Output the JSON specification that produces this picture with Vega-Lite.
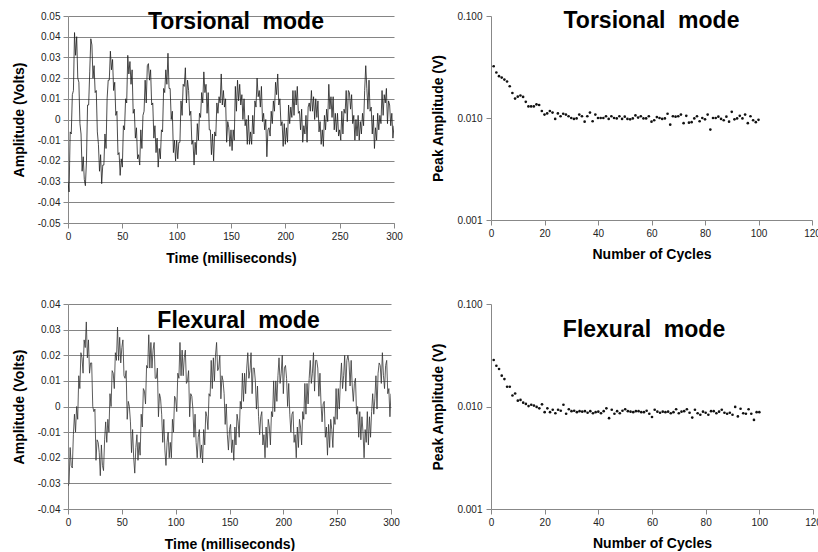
{
"$schema": "https://vega.github.io/schema/vega-lite/v6.json",
"background": "white",
"padding": {"left": 12, "top": 10, "right": 0, "bottom": 0},
"config": {
  "view": {"stroke": null},
  "font": "Liberation Sans",
  "axis": {"labelFont": "Liberation Sans", "labelFontSize": 10, "labelColor": "#222", "titleFont": "Liberation Sans", "titleFontSize": 14, "titleFontWeight": "bold", "titleColor": "#000", "domainColor": "#888", "tickColor": "#888", "gridColor": "#858585", "gridOpacity": 1, "tickSize": 5, "labelFlush": false, "labelOverlap": false},
  "title": {"font": "Liberation Sans", "fontSize": 23, "fontWeight": "bold", "color": "#000", "anchor": "middle", "frame": "group", "baseline": "top", "offset": -23}
},
"datasets": {
"tors": [
{"t":0,"v":-0.030},{"t":1,"v":-0.035},{"t":2,"v":-0.006},{"t":3,"v":-0.007},{"t":4,"v":0.012},{"t":5,"v":0.014},{"t":6,"v":0.042},{"t":7,"v":0.031},{"t":8,"v":0.040},{"t":9,"v":0.020},
{"t":10,"v":0.018},{"t":11,"v":-0.002},{"t":12,"v":-0.007},{"t":13,"v":-0.025},{"t":14,"v":-0.018},{"t":15,"v":-0.029},{"t":16,"v":-0.032},{"t":17,"v":-0.020},{"t":18,"v":0.007},{"t":19,"v":0.007},
{"t":20,"v":0.023},{"t":21,"v":0.039},{"t":22,"v":0.036},{"t":23,"v":0.020},{"t":24,"v":0.026},{"t":25,"v":0.013},{"t":26,"v":0.014},{"t":27,"v":-0.006},{"t":28,"v":-0.012},{"t":29,"v":-0.025},
{"t":30,"v":-0.017},{"t":31,"v":-0.031},{"t":32,"v":-0.022},{"t":33,"v":-0.022},{"t":34,"v":-0.007},{"t":35,"v":-0.014},{"t":36,"v":0.010},{"t":37,"v":0.019},{"t":38,"v":0.019},{"t":39,"v":0.033},
{"t":40,"v":0.024},{"t":41,"v":0.029},{"t":42,"v":0.014},{"t":43,"v":0.018},{"t":44,"v":0.002},{"t":45,"v":0.004},{"t":46,"v":-0.017},{"t":47,"v":-0.016},{"t":48,"v":-0.027},{"t":49,"v":-0.019},
{"t":50,"v":-0.023},{"t":51,"v":-0.003},{"t":52,"v":-0.005},{"t":53,"v":0.010},{"t":54,"v":0.008},{"t":55,"v":0.031},{"t":56,"v":0.022},{"t":57,"v":0.028},{"t":58,"v":0.017},{"t":59,"v":0.024},
{"t":60,"v":0.003},{"t":61,"v":0.005},{"t":62,"v":-0.009},{"t":63,"v":-0.004},{"t":64,"v":-0.019},{"t":65,"v":-0.017},{"t":66,"v":-0.022},{"t":67,"v":-0.005},{"t":68,"v":-0.014},{"t":69,"v":0.002},
{"t":70,"v":0.004},{"t":71,"v":0.019},{"t":72,"v":0.008},{"t":73,"v":0.026},{"t":74,"v":0.027},{"t":75,"v":0.019},{"t":76,"v":0.024},{"t":77,"v":0.007},{"t":78,"v":0.008},{"t":79,"v":-0.009},
{"t":80,"v":-0.003},{"t":81,"v":-0.016},{"t":82,"v":-0.009},{"t":83,"v":-0.023},{"t":84,"v":-0.014},{"t":85,"v":-0.019},{"t":86,"v":-0.005},{"t":87,"v":-0.006},{"t":88,"v":0.015},{"t":89,"v":0.013},
{"t":90,"v":0.024},{"t":91,"v":0.017},{"t":92,"v":0.032},{"t":93,"v":0.015},{"t":94,"v":0.015},{"t":95,"v":0.000},{"t":96,"v":0.004},{"t":97,"v":-0.016},{"t":98,"v":-0.010},{"t":99,"v":-0.020},
{"t":100,"v":-0.010},{"t":101,"v":-0.019},{"t":102,"v":-0.011},{"t":103,"v":-0.011},{"t":104,"v":0.009},{"t":105,"v":0.002},{"t":106,"v":0.017},{"t":107,"v":0.016},{"t":108,"v":0.025},{"t":109,"v":0.008},
{"t":110,"v":0.019},{"t":111,"v":0.014},{"t":112,"v":0.002},{"t":113,"v":0.004},{"t":114,"v":-0.012},{"t":115,"v":-0.010},{"t":116,"v":-0.022},{"t":117,"v":-0.011},{"t":118,"v":-0.017},{"t":119,"v":-0.002},
{"t":120,"v":-0.010},{"t":121,"v":0.003},{"t":122,"v":0.001},{"t":123,"v":0.013},{"t":124,"v":0.008},{"t":125,"v":0.023},{"t":126,"v":0.013},{"t":127,"v":0.017},{"t":128,"v":0.003},{"t":129,"v":0.013},
{"t":130,"v":-0.005},{"t":131,"v":-0.005},{"t":132,"v":-0.017},{"t":133,"v":-0.007},{"t":134,"v":-0.020},{"t":135,"v":-0.006},{"t":136,"v":-0.008},{"t":137,"v":0.008},{"t":138,"v":0.003},{"t":139,"v":0.011},
{"t":140,"v":0.008},{"t":141,"v":0.022},{"t":142,"v":0.007},{"t":143,"v":0.014},{"t":144,"v":0.006},{"t":145,"v":0.010},{"t":146,"v":-0.011},{"t":147,"v":-0.001},{"t":148,"v":-0.004},{"t":149,"v":-0.013},
{"t":150,"v":-0.005},{"t":151,"v":-0.015},{"t":152,"v":-0.005},{"t":153,"v":-0.010},{"t":154,"v":0.016},{"t":155,"v":0.004},{"t":156,"v":0.019},{"t":157,"v":0.009},{"t":158,"v":0.017},{"t":159,"v":0.007},
{"t":160,"v":0.012},{"t":161,"v":0.000},{"t":162,"v":0.010},{"t":163,"v":-0.003},{"t":164,"v":0.000},{"t":165,"v":-0.012},{"t":166,"v":0.002},{"t":167,"v":-0.012},{"t":168,"v":-0.006},{"t":169,"v":-0.012},
{"t":170,"v":0.002},{"t":171,"v":-0.007},{"t":172,"v":0.009},{"t":173,"v":0.006},{"t":174,"v":0.020},{"t":175,"v":0.011},{"t":176,"v":0.014},{"t":177,"v":0.006},{"t":178,"v":0.016},{"t":179,"v":-0.001},
{"t":180,"v":0.003},{"t":181,"v":-0.005},{"t":182,"v":0.000},{"t":183,"v":-0.018},{"t":184,"v":-0.005},{"t":185,"v":-0.004},{"t":186,"v":-0.008},{"t":187,"v":0.004},{"t":188,"v":-0.002},{"t":189,"v":0.009},
{"t":190,"v":0.004},{"t":191,"v":0.018},{"t":192,"v":0.012},{"t":193,"v":0.022},{"t":194,"v":0.007},{"t":195,"v":0.010},{"t":196,"v":-0.003},{"t":197,"v":-0.001},{"t":198,"v":-0.013},{"t":199,"v":-0.002},
{"t":200,"v":-0.012},{"t":201,"v":-0.004},{"t":202,"v":-0.011},{"t":203,"v":0.007},{"t":204,"v":-0.002},{"t":205,"v":0.006},{"t":206,"v":0.001},{"t":207,"v":0.014},{"t":208,"v":0.002},{"t":209,"v":0.014},
{"t":210,"v":0.007},{"t":211,"v":0.016},{"t":212,"v":0.003},{"t":213,"v":0.004},{"t":214,"v":-0.005},{"t":215,"v":0.005},{"t":216,"v":-0.011},{"t":217,"v":-0.003},{"t":218,"v":-0.007},{"t":219,"v":0.002},
{"t":220,"v":-0.011},{"t":221,"v":0.006},{"t":222,"v":0.008},{"t":223,"v":0.004},{"t":224,"v":0.014},{"t":225,"v":0.004},{"t":226,"v":0.011},{"t":227,"v":0.000},{"t":228,"v":0.010},{"t":229,"v":0.001},
{"t":230,"v":0.009},{"t":231,"v":-0.006},{"t":232,"v":-0.001},{"t":233,"v":-0.012},{"t":234,"v":-0.005},{"t":235,"v":-0.013},{"t":236,"v":0.002},{"t":237,"v":-0.005},{"t":238,"v":0.005},{"t":239,"v":-0.001},
{"t":240,"v":0.017},{"t":241,"v":0.005},{"t":242,"v":0.011},{"t":243,"v":0.001},{"t":244,"v":0.011},{"t":245,"v":-0.005},{"t":246,"v":0.003},{"t":247,"v":-0.006},{"t":248,"v":0.003},{"t":249,"v":-0.008},
{"t":250,"v":-0.005},{"t":251,"v":-0.010},{"t":252,"v":0.004},{"t":253,"v":-0.007},{"t":254,"v":0.005},{"t":255,"v":0.003},{"t":256,"v":0.014},{"t":257,"v":-0.001},{"t":258,"v":0.014},{"t":259,"v":0.013},
{"t":260,"v":0.005},{"t":261,"v":0.012},{"t":262,"v":-0.002},{"t":263,"v":0.002},{"t":264,"v":-0.010},{"t":265,"v":0.000},{"t":266,"v":-0.008},{"t":267,"v":0.002},{"t":268,"v":-0.010},{"t":269,"v":-0.001},
{"t":270,"v":-0.007},{"t":271,"v":0.003},{"t":272,"v":-0.003},{"t":273,"v":0.014},{"t":274,"v":0.026},{"t":275,"v":0.015},{"t":276,"v":0.005},{"t":277,"v":0.019},{"t":278,"v":0.004},{"t":279,"v":0.006},
{"t":280,"v":-0.007},{"t":281,"v":0.002},{"t":282,"v":-0.014},{"t":283,"v":-0.004},{"t":284,"v":-0.010},{"t":285,"v":0.003},{"t":286,"v":-0.005},{"t":287,"v":0.002},{"t":288,"v":-0.002},{"t":289,"v":0.014},
{"t":290,"v":0.002},{"t":291,"v":0.012},{"t":292,"v":0.008},{"t":293,"v":0.015},{"t":294,"v":-0.002},{"t":295,"v":0.009},{"t":296,"v":0.007},{"t":297,"v":-0.003},{"t":298,"v":0.003},{"t":299,"v":-0.009},
{"t":300,"v":-0.003}
],
"flex": [
{"t":0,"v":-0.031},{"t":1,"v":-0.030},{"t":2,"v":-0.016},{"t":3,"v":-0.023},{"t":4,"v":-0.024},{"t":5,"v":-0.011},{"t":6,"v":-0.003},{"t":7,"v":-0.010},{"t":8,"v":0.000},{"t":9,"v":-0.005},
{"t":10,"v":0.012},{"t":11,"v":0.007},{"t":12,"v":0.021},{"t":13,"v":0.019},{"t":14,"v":0.013},{"t":15,"v":0.026},{"t":16,"v":0.023},{"t":17,"v":0.033},{"t":18,"v":0.019},{"t":19,"v":0.026},
{"t":20,"v":0.013},{"t":21,"v":0.017},{"t":22,"v":0.017},{"t":23,"v":0.000},{"t":24,"v":-0.002},{"t":25,"v":-0.001},{"t":26,"v":-0.021},{"t":27,"v":-0.013},{"t":28,"v":-0.014},{"t":29,"v":-0.018},
{"t":30,"v":-0.027},{"t":31,"v":-0.015},{"t":32,"v":-0.023},{"t":33,"v":-0.025},{"t":34,"v":-0.013},{"t":35,"v":-0.006},{"t":36,"v":-0.014},{"t":37,"v":-0.005},{"t":38,"v":-0.010},{"t":39,"v":0.005},
{"t":40,"v":0.000},{"t":41,"v":0.014},{"t":42,"v":0.013},{"t":43,"v":0.007},{"t":44,"v":0.021},{"t":45,"v":0.018},{"t":46,"v":0.031},{"t":47,"v":0.018},{"t":48,"v":0.027},{"t":49,"v":0.017},
{"t":50,"v":0.023},{"t":51,"v":0.026},{"t":52,"v":0.012},{"t":53,"v":0.011},{"t":54,"v":0.014},{"t":55,"v":-0.005},{"t":56,"v":0.002},{"t":57,"v":0.000},{"t":58,"v":-0.006},{"t":59,"v":-0.018},
{"t":60,"v":-0.009},{"t":61,"v":-0.020},{"t":62,"v":-0.026},{"t":63,"v":-0.016},{"t":64,"v":-0.011},{"t":65,"v":-0.021},{"t":66,"v":-0.014},{"t":67,"v":-0.019},{"t":68,"v":-0.003},{"t":69,"v":-0.008},
{"t":70,"v":0.007},{"t":71,"v":0.006},{"t":72,"v":0.001},{"t":73,"v":0.016},{"t":74,"v":0.015},{"t":75,"v":0.028},{"t":76,"v":0.015},{"t":77,"v":0.025},{"t":78,"v":0.015},{"t":79,"v":0.022},
{"t":80,"v":0.025},{"t":81,"v":0.011},{"t":82,"v":0.011},{"t":83,"v":0.015},{"t":84,"v":-0.004},{"t":85,"v":0.005},{"t":86,"v":0.003},{"t":87,"v":-0.003},{"t":88,"v":-0.014},{"t":89,"v":-0.005},
{"t":90,"v":-0.017},{"t":91,"v":-0.023},{"t":92,"v":-0.014},{"t":93,"v":-0.010},{"t":94,"v":-0.020},{"t":95,"v":-0.014},{"t":96,"v":-0.020},{"t":97,"v":-0.005},{"t":98,"v":-0.010},{"t":99,"v":0.004},
{"t":100,"v":0.003},{"t":101,"v":-0.002},{"t":102,"v":0.013},{"t":103,"v":0.011},{"t":104,"v":0.025},{"t":105,"v":0.012},{"t":106,"v":0.022},{"t":107,"v":0.012},{"t":108,"v":0.019},{"t":109,"v":0.022},
{"t":110,"v":0.009},{"t":111,"v":0.010},{"t":112,"v":0.014},{"t":113,"v":-0.004},{"t":114,"v":0.005},{"t":115,"v":0.004},{"t":116,"v":-0.001},{"t":117,"v":-0.012},{"t":118,"v":-0.003},{"t":119,"v":-0.014},
{"t":120,"v":-0.020},{"t":121,"v":-0.012},{"t":122,"v":-0.009},{"t":123,"v":-0.020},{"t":124,"v":-0.015},{"t":125,"v":-0.022},{"t":126,"v":-0.009},{"t":127,"v":-0.015},{"t":128,"v":-0.002},{"t":129,"v":-0.004},
{"t":130,"v":-0.009},{"t":131,"v":0.005},{"t":132,"v":0.004},{"t":133,"v":0.018},{"t":134,"v":0.007},{"t":135,"v":0.019},{"t":136,"v":0.010},{"t":137,"v":0.020},{"t":138,"v":0.025},{"t":139,"v":0.014},
{"t":140,"v":0.015},{"t":141,"v":0.020},{"t":142,"v":0.003},{"t":143,"v":0.012},{"t":144,"v":0.010},{"t":145,"v":0.005},{"t":146,"v":-0.007},{"t":147,"v":0.001},{"t":148,"v":-0.011},{"t":149,"v":-0.017},
{"t":150,"v":-0.009},{"t":151,"v":-0.007},{"t":152,"v":-0.018},{"t":153,"v":-0.013},{"t":154,"v":-0.021},{"t":155,"v":-0.008},{"t":156,"v":-0.015},{"t":157,"v":-0.003},{"t":158,"v":-0.006},{"t":159,"v":-0.012},
{"t":160,"v":0.002},{"t":161,"v":-0.001},{"t":162,"v":0.013},{"t":163,"v":0.002},{"t":164,"v":0.013},{"t":165,"v":0.005},{"t":166,"v":0.015},{"t":167,"v":0.021},{"t":168,"v":0.011},{"t":169,"v":0.014},
{"t":170,"v":0.021},{"t":171,"v":0.005},{"t":172,"v":0.015},{"t":173,"v":0.015},{"t":174,"v":0.010},{"t":175,"v":-0.001},{"t":176,"v":0.008},{"t":177,"v":-0.004},{"t":178,"v":-0.011},{"t":179,"v":-0.004},
{"t":180,"v":-0.002},{"t":181,"v":-0.015},{"t":182,"v":-0.011},{"t":183,"v":-0.020},{"t":184,"v":-0.008},{"t":185,"v":-0.016},{"t":186,"v":-0.005},{"t":187,"v":-0.008},{"t":188,"v":-0.015},{"t":189,"v":-0.002},
{"t":190,"v":-0.004},{"t":191,"v":0.010},{"t":192,"v":-0.002},{"t":193,"v":0.010},{"t":194,"v":0.002},{"t":195,"v":0.012},{"t":196,"v":0.019},{"t":197,"v":0.009},{"t":198,"v":0.013},{"t":199,"v":0.020},
{"t":200,"v":0.005},{"t":201,"v":0.015},{"t":202,"v":0.016},{"t":203,"v":0.011},{"t":204,"v":0.000},{"t":205,"v":0.009},{"t":206,"v":-0.003},{"t":207,"v":-0.010},{"t":208,"v":-0.003},{"t":209,"v":-0.002},
{"t":210,"v":-0.014},{"t":211,"v":-0.011},{"t":212,"v":-0.020},{"t":213,"v":-0.008},{"t":214,"v":-0.016},{"t":215,"v":-0.005},{"t":216,"v":-0.008},{"t":217,"v":-0.015},{"t":218,"v":-0.002},{"t":219,"v":-0.005},
{"t":220,"v":0.009},{"t":221,"v":-0.003},{"t":222,"v":0.009},{"t":223,"v":0.001},{"t":224,"v":0.011},{"t":225,"v":0.018},{"t":226,"v":0.009},{"t":227,"v":0.013},{"t":228,"v":0.021},{"t":229,"v":0.006},
{"t":230,"v":0.018},{"t":231,"v":0.018},{"t":232,"v":0.015},{"t":233,"v":0.004},{"t":234,"v":0.013},{"t":235,"v":0.001},{"t":236,"v":-0.006},{"t":237,"v":0.001},{"t":238,"v":0.002},{"t":239,"v":-0.012},
{"t":240,"v":-0.008},{"t":241,"v":-0.019},{"t":242,"v":-0.007},{"t":243,"v":-0.016},{"t":244,"v":-0.005},{"t":245,"v":-0.009},{"t":246,"v":-0.016},{"t":247,"v":-0.004},{"t":248,"v":-0.007},{"t":249,"v":0.007},
{"t":250,"v":-0.005},{"t":251,"v":0.007},{"t":252,"v":-0.001},{"t":253,"v":0.010},{"t":254,"v":0.017},{"t":255,"v":0.007},{"t":256,"v":0.012},{"t":257,"v":0.020},{"t":258,"v":0.006},{"t":259,"v":0.018},
{"t":260,"v":0.020},{"t":261,"v":0.017},{"t":262,"v":0.008},{"t":263,"v":0.018},{"t":264,"v":0.008},{"t":265,"v":0.002},{"t":266,"v":0.009},{"t":267,"v":0.011},{"t":268,"v":-0.003},{"t":269,"v":0.000},
{"t":270,"v":-0.012},{"t":271,"v":-0.002},{"t":272,"v":-0.013},{"t":273,"v":-0.004},{"t":274,"v":-0.010},{"t":275,"v":-0.020},{"t":276,"v":-0.009},{"t":277,"v":-0.014},{"t":278,"v":-0.002},{"t":279,"v":-0.015},
{"t":280,"v":-0.004},{"t":281,"v":-0.012},{"t":282,"v":-0.002},{"t":283,"v":0.005},{"t":284,"v":-0.003},{"t":285,"v":0.003},{"t":286,"v":0.012},{"t":287,"v":-0.001},{"t":288,"v":0.013},{"t":289,"v":0.017},
{"t":290,"v":0.016},{"t":291,"v":0.009},{"t":292,"v":0.021},{"t":293,"v":0.012},{"t":294,"v":0.007},{"t":295,"v":0.016},{"t":296,"v":0.018},{"t":297,"v":0.005},{"t":298,"v":0.007},{"t":299,"v":-0.004},
{"t":300,"v":0.005}
],
"torsPeak": [
{"c":1,"a":0.0322},{"c":2,"a":0.0279},{"c":3,"a":0.0257},{"c":4,"a":0.0249},{"c":5,"a":0.0238},{"c":6,"a":0.0228},{"c":7,"a":0.0205},{"c":8,"a":0.0176},{"c":9,"a":0.0155},{"c":10,"a":0.0162},
{"c":11,"a":0.0166},{"c":12,"a":0.0161},{"c":13,"a":0.0144},{"c":14,"a":0.0130},{"c":15,"a":0.0130},{"c":16,"a":0.0130},{"c":17,"a":0.0136},{"c":18,"a":0.0134},{"c":19,"a":0.0117},{"c":20,"a":0.0108},
{"c":21,"a":0.0111},{"c":22,"a":0.0117},{"c":23,"a":0.0113},{"c":24,"a":0.0098},{"c":25,"a":0.0111},{"c":26,"a":0.0104},{"c":27,"a":0.0110},{"c":28,"a":0.0108},{"c":29,"a":0.0104},{"c":30,"a":0.0100},
{"c":31,"a":0.0098},{"c":32,"a":0.0099},{"c":33,"a":0.0108},{"c":34,"a":0.0104},{"c":35,"a":0.0092},{"c":36,"a":0.0104},{"c":37,"a":0.0113},{"c":38,"a":0.0093},{"c":39,"a":0.0108},{"c":40,"a":0.0100},
{"c":41,"a":0.0100},{"c":42,"a":0.0100},{"c":43,"a":0.0104},{"c":44,"a":0.0098},{"c":45,"a":0.0104},{"c":46,"a":0.0100},{"c":47,"a":0.0099},{"c":48,"a":0.0104},{"c":49,"a":0.0098},{"c":50,"a":0.0103},
{"c":51,"a":0.0098},{"c":52,"a":0.0097},{"c":53,"a":0.0099},{"c":54,"a":0.0106},{"c":55,"a":0.0101},{"c":56,"a":0.0104},{"c":57,"a":0.0099},{"c":58,"a":0.0099},{"c":59,"a":0.0104},{"c":60,"a":0.0092},
{"c":61,"a":0.0095},{"c":62,"a":0.0102},{"c":63,"a":0.0100},{"c":64,"a":0.0098},{"c":65,"a":0.0099},{"c":66,"a":0.0110},{"c":67,"a":0.0086},{"c":68,"a":0.0104},{"c":69,"a":0.0103},{"c":70,"a":0.0104},
{"c":71,"a":0.0108},{"c":72,"a":0.0089},{"c":73,"a":0.0105},{"c":74,"a":0.0090},{"c":75,"a":0.0091},{"c":76,"a":0.0099},{"c":77,"a":0.0104},{"c":78,"a":0.0093},{"c":79,"a":0.0100},{"c":80,"a":0.0097},
{"c":81,"a":0.0108},{"c":82,"a":0.0077},{"c":83,"a":0.0100},{"c":84,"a":0.0100},{"c":85,"a":0.0103},{"c":86,"a":0.0098},{"c":87,"a":0.0095},{"c":88,"a":0.0103},{"c":89,"a":0.0092},{"c":90,"a":0.0115},
{"c":91,"a":0.0097},{"c":92,"a":0.0099},{"c":93,"a":0.0105},{"c":94,"a":0.0099},{"c":95,"a":0.0108},{"c":96,"a":0.0089},{"c":97,"a":0.0104},{"c":98,"a":0.0095},{"c":99,"a":0.0091},{"c":100,"a":0.0096}
],
"flexPeak": [
{"c":1,"a":0.0284},{"c":2,"a":0.0250},{"c":3,"a":0.0232},{"c":4,"a":0.0200},{"c":5,"a":0.0185},{"c":6,"a":0.0156},{"c":7,"a":0.0156},{"c":8,"a":0.0128},{"c":9,"a":0.0134},{"c":10,"a":0.0114},
{"c":11,"a":0.0116},{"c":12,"a":0.0109},{"c":13,"a":0.0106},{"c":14,"a":0.0101},{"c":15,"a":0.0104},{"c":16,"a":0.0102},{"c":17,"a":0.0099},{"c":18,"a":0.0096},{"c":19,"a":0.0105},{"c":20,"a":0.0088},
{"c":21,"a":0.0096},{"c":22,"a":0.0088},{"c":23,"a":0.0093},{"c":24,"a":0.0086},{"c":25,"a":0.0093},{"c":26,"a":0.0091},{"c":27,"a":0.0104},{"c":28,"a":0.0085},{"c":29,"a":0.0094},{"c":30,"a":0.0090},
{"c":31,"a":0.0091},{"c":32,"a":0.0088},{"c":33,"a":0.0090},{"c":34,"a":0.0089},{"c":35,"a":0.0090},{"c":36,"a":0.0087},{"c":37,"a":0.0090},{"c":38,"a":0.0086},{"c":39,"a":0.0088},{"c":40,"a":0.0089},
{"c":41,"a":0.0086},{"c":42,"a":0.0090},{"c":43,"a":0.0096},{"c":44,"a":0.0077},{"c":45,"a":0.0093},{"c":46,"a":0.0085},{"c":47,"a":0.0090},{"c":48,"a":0.0086},{"c":49,"a":0.0091},{"c":50,"a":0.0094},
{"c":51,"a":0.0090},{"c":52,"a":0.0089},{"c":53,"a":0.0088},{"c":54,"a":0.0090},{"c":55,"a":0.0090},{"c":56,"a":0.0088},{"c":57,"a":0.0088},{"c":58,"a":0.0091},{"c":59,"a":0.0085},{"c":60,"a":0.0079},
{"c":61,"a":0.0093},{"c":62,"a":0.0089},{"c":63,"a":0.0087},{"c":64,"a":0.0089},{"c":65,"a":0.0088},{"c":66,"a":0.0089},{"c":67,"a":0.0086},{"c":68,"a":0.0088},{"c":69,"a":0.0094},{"c":70,"a":0.0086},
{"c":71,"a":0.0089},{"c":72,"a":0.0090},{"c":73,"a":0.0094},{"c":74,"a":0.0087},{"c":75,"a":0.0078},{"c":76,"a":0.0093},{"c":77,"a":0.0086},{"c":78,"a":0.0083},{"c":79,"a":0.0089},{"c":80,"a":0.0087},
{"c":81,"a":0.0083},{"c":82,"a":0.0090},{"c":83,"a":0.0090},{"c":84,"a":0.0086},{"c":85,"a":0.0089},{"c":86,"a":0.0093},{"c":87,"a":0.0087},{"c":88,"a":0.0085},{"c":89,"a":0.0087},{"c":90,"a":0.0083},
{"c":91,"a":0.0099},{"c":92,"a":0.0080},{"c":93,"a":0.0095},{"c":94,"a":0.0086},{"c":95,"a":0.0085},{"c":96,"a":0.0094},{"c":97,"a":0.0085},{"c":98,"a":0.0074},{"c":99,"a":0.0088},{"c":100,"a":0.0088}
]
},
"bounds": "flush",
"columns": 2,
"spacing": {"row": 81, "column": 97},
"concat": [
  {"width": 326, "height": 207, "data": {"name": "tors"},
   "title": {"text": "Torsional\u00a0 mode", "dx": 5, "offset": -23},
   "mark": {"type": "line", "color": "#1e1e1e", "strokeWidth": 0.8, "clip": true},
   "encoding": {
    "x": {"field": "t", "type": "quantitative", "scale": {"domain": [0, 300], "nice": false}, "axis": {"values": [0, 50, 100, 150, 200, 250, 300], "title": "Time (milliseconds)", "grid": false, "labelPadding": 3, "titlePadding": 10}},
    "y": {"field": "v", "type": "quantitative", "scale": {"domain": [-0.05, 0.05], "nice": false}, "axis": {"values": [-0.05, -0.04, -0.03, -0.02, -0.01, 0, 0.01, 0.02, 0.03, 0.04, 0.05], "format": ".2~f", "labelExpr": "replace(datum.label, '\u2212', '-')", "grid": true, "title": "Amplitude (Volts)", "labelPadding": 3, "titlePadding": 11}}
   }},
  {"width": 321, "height": 204, "data": {"name": "torsPeak"},
   "title": {"text": "Torsional\u00a0 mode", "dx": 0, "offset": -22},
   "mark": {"type": "point", "filled": true, "size": 7, "color": "#111", "opacity": 1},
   "encoding": {
    "x": {"field": "c", "type": "quantitative", "scale": {"domain": [0, 120], "nice": false}, "axis": {"values": [0, 20, 40, 60, 80, 100, 120], "title": "Number of Cycles", "grid": false, "labelPadding": 3, "titlePadding": 9}},
    "y": {"field": "a", "type": "quantitative", "scale": {"type": "log", "domain": [0.001, 0.1], "nice": false}, "axis": {"values": [0.001, 0.01, 0.1], "format": ".3f", "grid": false, "title": "Peak Amplitude (V)", "labelPadding": 4, "titlePadding": 11}}
   }},
  {"width": 323, "height": 205, "data": {"name": "flex"},
   "title": {"text": "Flexural\u00a0 mode", "dx": 9, "offset": -34},
   "mark": {"type": "line", "color": "#333", "strokeWidth": 0.8, "clip": true},
   "encoding": {
    "x": {"field": "t", "type": "quantitative", "scale": {"domain": [0, 300], "nice": false}, "axis": {"values": [0, 50, 100, 150, 200, 250, 300], "title": "Time (milliseconds)", "grid": false, "labelPadding": 3, "titlePadding": 10}},
    "y": {"field": "v", "type": "quantitative", "scale": {"domain": [-0.04, 0.04], "nice": false}, "axis": {"values": [-0.04, -0.03, -0.02, -0.01, 0, 0.01, 0.02, 0.03, 0.04], "format": ".2~f", "labelExpr": "replace(datum.label, '\u2212', '-')", "grid": true, "title": "Amplitude (Volts)", "labelPadding": 3, "titlePadding": 11}}
   }},
  {"width": 322, "height": 205, "data": {"name": "flexPeak"},
   "title": {"text": "Flexural\u00a0 mode", "dx": -8, "offset": -43},
   "mark": {"type": "point", "filled": true, "size": 7, "color": "#111", "opacity": 1},
   "encoding": {
    "x": {"field": "c", "type": "quantitative", "scale": {"domain": [0, 120], "nice": false}, "axis": {"values": [0, 20, 40, 60, 80, 100, 120], "title": "Number of Cycles", "grid": false, "labelPadding": 3, "titlePadding": 9}},
    "y": {"field": "a", "type": "quantitative", "scale": {"type": "log", "domain": [0.001, 0.1], "nice": false}, "axis": {"values": [0.001, 0.01, 0.1], "format": ".3f", "grid": false, "title": "Peak Amplitude (V)", "labelPadding": 4, "titlePadding": 11}}
   }}
]
}
